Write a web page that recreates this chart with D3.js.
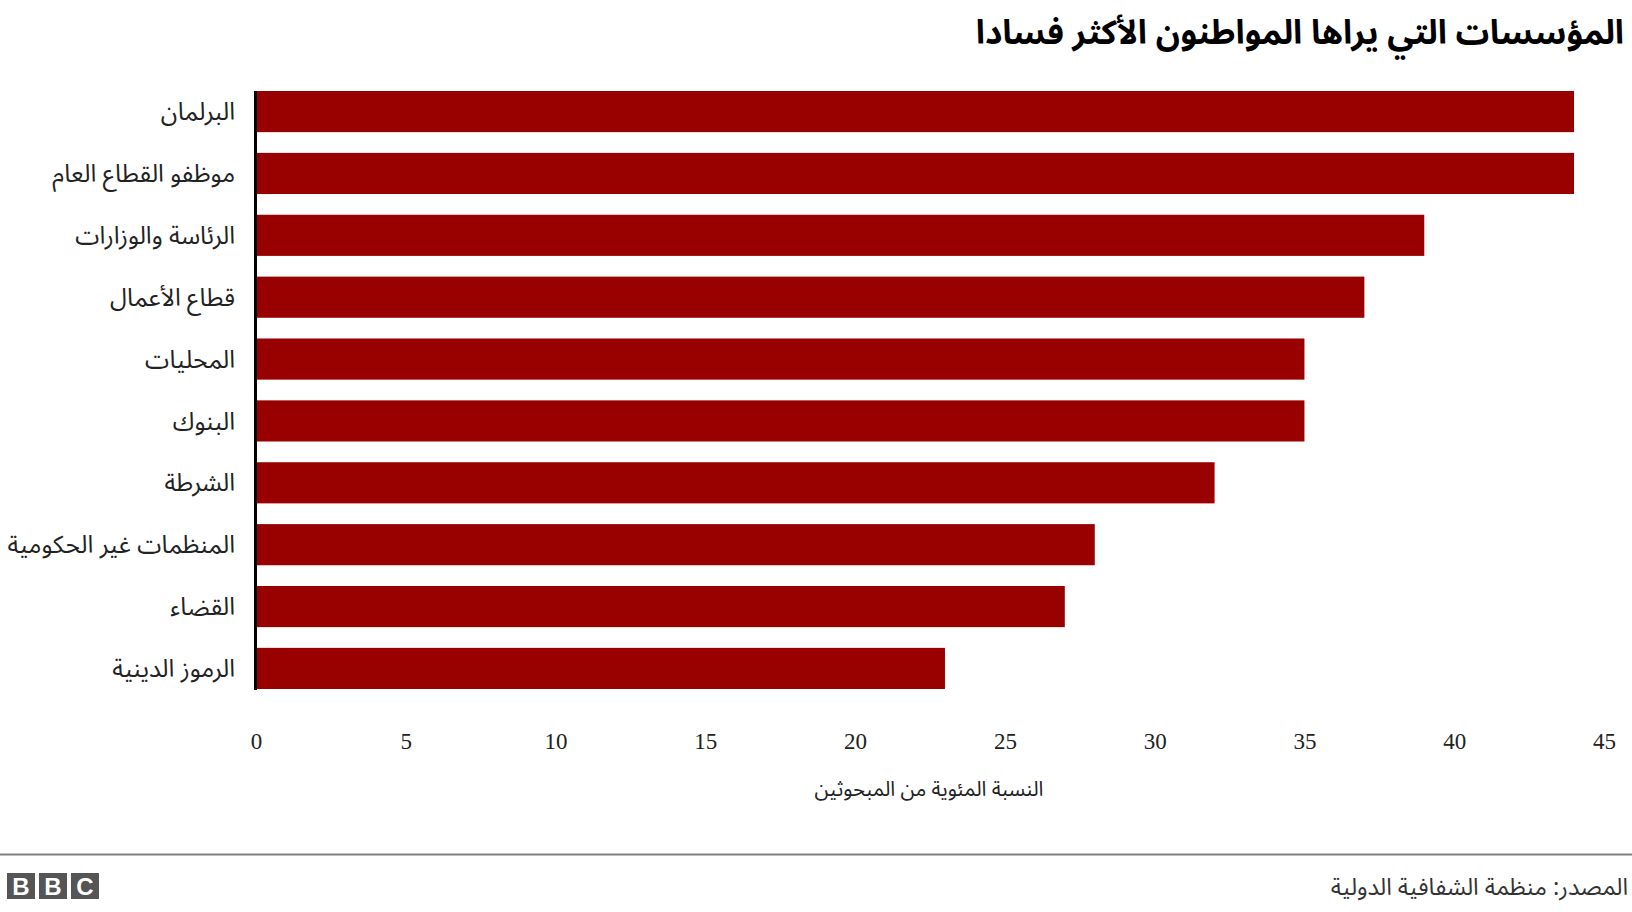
<!DOCTYPE html>
<html><head><meta charset="utf-8">
<script src="https://cdn.jsdelivr.net/npm/d3@7"></script>
<style>
html,body{margin:0;padding:0;background:#fff;}
svg{display:block;}
</style></head>
<body>
<script>
const categories = ["البرلمان","موظفو القطاع العام","الرئاسة والوزارات","قطاع الأعمال","المحليات","البنوك","الشرطة","المنظمات غير الحكومية","القضاء","الرموز الدينية"];
const values = [44,44,39,37,35,35,32,28,27,23];
const tickValues = [0,5,10,15,20,25,30,35,40,45];
const titleText = "المؤسسات التي يراها المواطنون الأكثر فسادا";
const axisTitle = "النسبة المئوية من المبحوثين";
const sourceText = "المصدر: منظمة الشفافية الدولية";

const W = 1632, H = 912;
const arabicFont = "'Noto Sans Arabic','DejaVu Sans',sans-serif";
const svg = d3.select("body").append("svg").attr("width", W).attr("height", H);

const x = d3.scaleLinear().domain([0,45]).range([256,1604]);
const y = d3.scaleBand().domain(categories).range([91,689]).paddingInner(0.335).paddingOuter(0);

svg.append("text").attr("x",1624).attr("y",44).attr("direction","rtl").attr("text-anchor","start")
  .style("font-family",arabicFont).style("font-weight","bold").style("font-size","33.5px")
  .attr("fill","#000").text(titleText);

svg.append("g").selectAll("rect").data(values).join("rect")
  .attr("x", x(0)).attr("y",(d,i)=>y(categories[i]))
  .attr("width", d=>x(d)-x(0)).attr("height", y.bandwidth())
  .attr("fill","#990000");

svg.append("line").attr("x1",255.5).attr("x2",255.5).attr("y1",91).attr("y2",690)
  .attr("stroke","#000").attr("stroke-width",3);

svg.append("g").selectAll("text").data(categories).join("text")
  .attr("x",235).attr("y",d=>y(d)+y.bandwidth()/2).attr("dy","0.35em")
  .attr("text-anchor","end")
  .style("font-family",arabicFont).style("font-size","24.5px").attr("fill","#222")
  .text(d=>d);

const xAxis = d3.axisBottom(x).tickValues(tickValues).tickSize(0).tickPadding(0);
const gx = svg.append("g").attr("transform","translate(0,733)").call(xAxis);
gx.select(".domain").remove();
gx.selectAll("text").style("font-family","'Liberation Serif',serif").style("font-size","23px").attr("fill","#222");

svg.append("text").attr("x",929).attr("y",796).attr("text-anchor","middle")
  .style("font-family",arabicFont).style("font-size","20.5px").attr("fill","#222").text(axisTitle);

svg.append("line").attr("x1",0).attr("x2",W).attr("y1",854.5).attr("y2",854.5)
  .attr("stroke","#808080").attr("stroke-width",2);

const logo = svg.append("g");
["B","B","C"].forEach((ch,i)=>{
  logo.append("rect").attr("x",7+i*32).attr("y",873).attr("width",28).attr("height",26).attr("fill","#555");
  logo.append("text").attr("x",7+i*32+14).attr("y",895).attr("text-anchor","middle")
    .style("font-family","'Liberation Sans',sans-serif").style("font-weight","bold").style("font-size","24px")
    .attr("fill","#fff").text(ch);
});

svg.append("text").attr("x",1628).attr("y",895).attr("text-anchor","end")
  .style("font-family",arabicFont).style("font-size","23.5px").attr("fill","#333").text(sourceText);
</script>
</body></html>
